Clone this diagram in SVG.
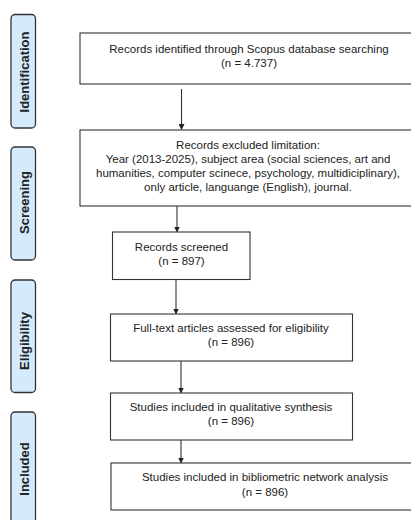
<svg xmlns="http://www.w3.org/2000/svg" width="411" height="520" viewBox="0 0 411 520">
<defs>
<style>
.lab{fill:#d5eafc;stroke:#333;stroke-width:1.3}
.labt{font-family:"Liberation Sans",Arial,sans-serif;font-weight:bold;font-size:13px;fill:#222;text-anchor:middle}
.box{fill:#fff;stroke:#333;stroke-width:1.1}
.t{font-family:"Liberation Sans",Arial,sans-serif;font-size:11.5px;fill:#222;text-anchor:middle}
.c{stroke:#333;stroke-width:1.1;fill:none;marker-end:url(#ah)}
</style>
<marker id="ah" markerWidth="6" markerHeight="6" refX="5" refY="3" orient="auto" markerUnits="userSpaceOnUse">
<path d="M0,0 L6,3 L0,6 Z" fill="#222"/>
</marker>
</defs>
<rect width="411" height="520" fill="#fff"/>
<g id="label-identification">
<rect class="lab" x="11" y="14.5" width="24.5" height="113.5" rx="4"/>
<text class="labt" transform="translate(28.5,72) rotate(-90)">Identification</text>
</g>
<g id="label-screening">
<rect class="lab" x="11" y="147" width="24.5" height="113" rx="4"/>
<text class="labt" transform="translate(28.5,202.5) rotate(-90)">Screening</text>
</g>
<g id="label-eligibility">
<rect class="lab" x="11" y="280" width="24.5" height="112.5" rx="4"/>
<text class="labt" transform="translate(28.5,341) rotate(-90)">Eligibility</text>
</g>
<g id="label-included">
<rect class="lab" x="11" y="412" width="24.5" height="120" rx="4"/>
<text class="labt" transform="translate(28.5,469) rotate(-90)">Included</text>
</g>
<g id="n1">
<rect class="box" x="80" y="33" width="338" height="51"/>
<text class="t" x="249" y="53">Records identified through Scopus database searching</text>
<text class="t" x="249" y="67">(n = 4.737)</text>
</g>
<g id="n2">
<rect class="box" x="80" y="130" width="338" height="76"/>
<text class="t" x="248" y="148.5">Records excluded limitation:</text>
<text class="t" x="248" y="162.5">Year (2013-2025), subject area (social sciences, art and</text>
<text class="t" x="248" y="176.5">humanities, computer scinece, psychology, multidiciplinary),</text>
<text class="t" x="248" y="190.5">only article, languange (English), journal.</text>
</g>
<g id="n3">
<rect class="box" x="112.5" y="232" width="137.5" height="47.5"/>
<text class="t" x="181.5" y="250.5">Records screened</text>
<text class="t" x="181.5" y="265">(n = 897)</text>
</g>
<g id="n4">
<rect class="box" x="110.5" y="314" width="242" height="47"/>
<text class="t" x="231" y="332">Full-text articles assessed for eligibility</text>
<text class="t" x="231" y="346">(n = 896)</text>
</g>
<g id="n5">
<rect class="box" x="110.5" y="393" width="242" height="47"/>
<text class="t" x="231" y="411">Studies included in qualitative synthesis</text>
<text class="t" x="231" y="425">(n = 896)</text>
</g>
<g id="n6">
<rect class="box" x="111" y="463" width="308" height="47"/>
<text class="t" x="265" y="481">Studies included in bibliometric network analysis</text>
<text class="t" x="265" y="495.5">(n = 896)</text>
</g>
<g id="connectors">
<line class="c" x1="181.5" y1="89" x2="181.5" y2="129"/>
<line class="c" x1="177" y1="206" x2="177" y2="231.5"/>
<line class="c" x1="176" y1="279.5" x2="176" y2="313.5"/>
<line class="c" x1="181" y1="361" x2="181" y2="392.5"/>
<line class="c" x1="181" y1="440" x2="181" y2="462.5"/>
</g>
</svg>
